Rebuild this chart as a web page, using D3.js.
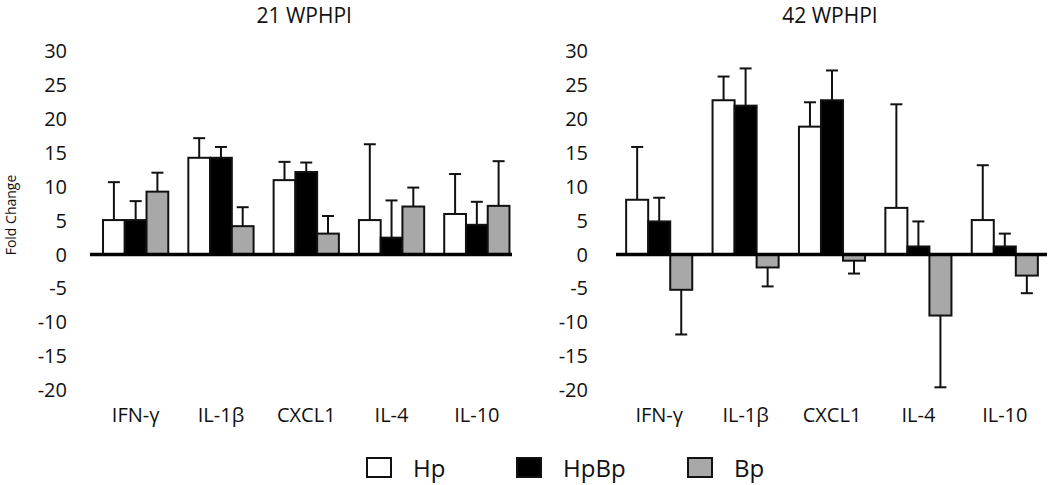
<!DOCTYPE html>
<html>
<head>
<meta charset="utf-8">
<script src="https://cdn.jsdelivr.net/npm/d3@7"></script>
<style>
  body { margin: 0; background: #fff; }
  text { font-family: "Open Sans", "Noto Sans", sans-serif; fill: #111; }
</style>
</head>
<body>
<svg id="chart" width="1050" height="485"></svg>
<script>
// ---- data ----
const categories = ["IFN-γ", "IL-1β", "CXCL1", "IL-4", "IL-10"];
const seriesNames = ["Hp", "HpBp", "Bp"];
const yTicks = [30, 25, 20, 15, 10, 5, 0, -5, -10, -15, -20];

const w21_Hp      = [5.1, 14.3, 11.0, 5.1, 6.0];
const w21_Hp_err  = [5.6, 2.9, 2.7, 11.2, 5.9];
const w21_HpBp    = [5.1, 14.3, 12.2, 2.5, 4.4];
const w21_HpBp_err= [2.8, 1.6, 1.4, 5.5, 3.4];
const w21_Bp      = [9.3, 4.2, 3.1, 7.1, 7.2];
const w21_Bp_err  = [2.8, 2.8, 2.6, 2.8, 6.6];

const w42_Hp      = [8.1, 22.8, 18.9, 6.9, 5.1];
const w42_Hp_err  = [7.8, 3.5, 3.6, 15.3, 8.1];
const w42_HpBp    = [4.9, 22.0, 22.8, 1.2, 1.2];
const w42_HpBp_err= [3.5, 5.5, 4.4, 3.7, 1.9];
const w42_Bp      = [-5.2, -1.9, -0.9, -9.0, -3.1];
const w42_Bp_err  = [6.6, 2.8, 1.9, 10.6, 2.6];

const panels = [
  { title: "21 WPHPI", values: [w21_Hp, w21_HpBp, w21_Bp], errs: [w21_Hp_err, w21_HpBp_err, w21_Bp_err],
    range: [93, 519.5], axisX: 70, lineX: [90, 512] },
  { title: "42 WPHPI", values: [w42_Hp, w42_HpBp, w42_Bp], errs: [w42_Hp_err, w42_HpBp_err, w42_Bp_err],
    range: [616, 1048], axisX: 591, lineX: [616, 1047] }
];

const colors = { "Hp": "#ffffff", "HpBp": "#000000", "Bp": "#a8a8a8" };

const svg = d3.select("#chart");
const y = d3.scaleLinear().domain([-20, 30]).range([390, 51.5]);

panels.forEach(p => {
  const g = svg.append("g");
  const x0 = d3.scaleBand().domain(categories).range(p.range).paddingInner(0.235).paddingOuter(0.1175);
  const x1 = d3.scaleBand().domain(seriesNames).range([0, x0.bandwidth()]).padding(0);

  // title
  g.append("text")
    .attr("x", (p.range[0] + p.range[1]) / 2 - 2)
    .attr("y", 23)
    .attr("text-anchor", "middle")
    .style("font-size", "21px")
    .text(p.title);

  // y axis labels
  const ya = g.append("g")
    .attr("transform", `translate(${p.axisX},0)`)
    .call(d3.axisLeft(y).tickValues(yTicks).tickSize(0).tickPadding(3).tickFormat(d => String(d)));
  ya.select(".domain").remove();
  ya.selectAll("text").style("font-size", "20px").style("font-family", "'Open Sans', sans-serif").attr("fill", "#111");

  const rows = [];
  categories.forEach((c, i) => {
    seriesNames.forEach((s, j) => {
      rows.push({ cat: c, ser: s, v: p.values[j][i], e: p.errs[j][i] });
    });
  });

  // error bars
  const eg = g.append("g");
  rows.forEach(r => {
    const cx = x0(r.cat) + x1(r.ser) + x1.bandwidth() / 2;
    const tip = r.v >= 0 ? r.v + r.e : r.v - r.e;
    eg.append("line")
      .attr("x1", cx).attr("x2", cx)
      .attr("y1", y(r.v)).attr("y2", y(tip))
      .attr("stroke", "#111").attr("stroke-width", 2);
    eg.append("line")
      .attr("x1", cx - 6).attr("x2", cx + 6)
      .attr("y1", y(tip)).attr("y2", y(tip))
      .attr("stroke", "#111").attr("stroke-width", 2);
  });

  // bars
  g.append("g").selectAll("rect").data(rows).join("rect")
    .attr("x", d => x0(d.cat) + x1(d.ser))
    .attr("width", x1.bandwidth())
    .attr("y", d => y(Math.max(0, d.v)))
    .attr("height", d => Math.abs(y(d.v) - y(0)))
    .attr("fill", d => colors[d.ser])
    .attr("stroke", "#111")
    .attr("stroke-width", 2);

  // zero line
  g.append("line")
    .attr("x1", p.lineX[0]).attr("x2", p.lineX[1])
    .attr("y1", y(0)).attr("y2", y(0))
    .attr("stroke", "#000").attr("stroke-width", 3.5);

  // category labels
  const xa = g.append("g")
    .attr("transform", `translate(0,405)`)
    .call(d3.axisBottom(x0).tickSize(0).tickPadding(3));
  xa.select(".domain").remove();
  xa.selectAll("text").style("font-size", "20px").style("font-family", "'Open Sans', sans-serif").attr("fill", "#111");
});

// y axis title
svg.append("text")
  .attr("transform", "translate(16,215) rotate(-90)")
  .attr("text-anchor", "middle")
  .style("font-size", "14px")
  .text("Fold Change");

// legend
const legendX = [367, 517, 688];
const leg = svg.append("g");
seriesNames.forEach((s, i) => {
  leg.append("rect")
    .attr("x", legendX[i]).attr("y", 458)
    .attr("width", 24).attr("height", 19)
    .attr("fill", colors[s]).attr("stroke", "#111").attr("stroke-width", 2);
  leg.append("text")
    .attr("x", legendX[i] + 46).attr("y", 477)
    .style("font-size", "24px")
    .text(s);
});
</script>
</body>
</html>
